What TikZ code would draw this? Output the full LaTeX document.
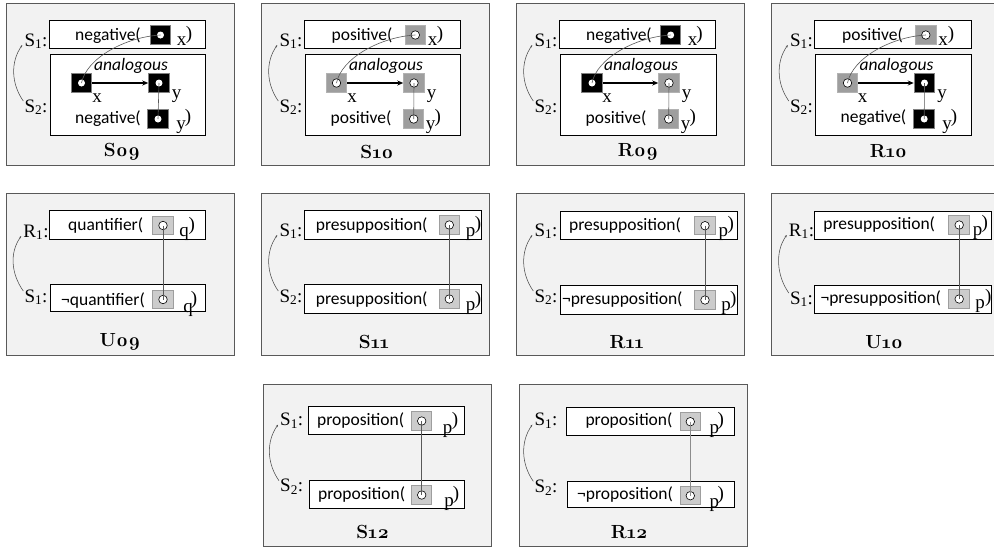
\documentclass[tikz,border=0pt]{standalone}
\usepackage{fontspec}
\newfontfamily\sansf{Carlito}
\newfontfamily\serf{Liberation Serif}
\newfontfamily\titlef[Numbers=OldStyle]{Latin Modern Roman}
\usetikzlibrary{arrows.meta}
\newcommand{\Sone}{S\textsubscript{1}}
\newcommand{\Stwo}{S\textsubscript{2}}
\newcommand{\Rone}{R\textsubscript{1}}
\tikzset{
  outerbox/.style={draw=black!65,line width=0.9pt,fill=black!5},
  innerbox/.style={draw=black,line width=0.8pt,fill=white},
  sq/.style={rectangle,minimum width=20.5pt,minimum height=18.5pt,inner sep=0pt,line width=1pt},
  sqk/.style={sq,fill=black,draw=black!50},
  sqg/.style={sq,fill=black!38,draw=black!30},
  sql/.style={sq,fill=black!20,draw=black!38},
  ringk/.style={circle,minimum size=7pt,inner sep=0pt,fill=white},
  ringg/.style={circle,minimum size=8.5pt,inner sep=0pt,fill=white,draw=black,line width=0.6pt},
  sanslab/.style={inner sep=0pt,text height=12pt,text depth=4pt,font=\sansf\fontsize{17.5}{20}\selectfont},
  itlab/.style={sanslab,font=\sansf\itshape\fontsize{17.5}{20}\selectfont},
  serlab/.style={inner sep=0pt,text height=12pt,text depth=4pt,font=\serf\fontsize{19}{20}\selectfont},
  ttl/.style={inner sep=0pt,font=\titlef\bfseries\fontsize{19}{22}\selectfont},
  linkline/.style={draw=black!65,line width=0.6pt},
  arcline/.style={draw=black!70,line width=0.55pt,-{Stealth[length=2.5pt,width=2pt]}},
  arrowline/.style={draw=black,line width=1.1pt,-{Stealth[length=6pt,width=5pt]}},
}
\newcommand{\panel}[7]{%
  \begin{scope}[shift={(#1,#2)},name prefix=#3-]
    \draw[outerbox] (6,3) rectangle (234,165);
    \node[ttl] (title) at (#5,#6) {#4};
    #7
  \end{scope}}
\newcommand{\ibox}[5]{\node[innerbox,inner sep=0pt,minimum width={#4-#2},minimum height={#5-#3}] (#1) at ({(#2+#4)/2},{(#3+#5)/2}) {};}
\newcommand{\sqr}[5]{\node[#2] (#1) at (#4,#5) {};\node[#3] (#1c) at (#4,#5) {};}
\newcommand{\stx}[4]{\node[sanslab] (#1) at (#3,#4) {#2};}
\newcommand{\ser}[4]{\node[serlab] (#1) at (#3,#4) {#2};}
\newcommand{\labs}[6]{%
  \node[serlab] (l1) at (#2,#3) {#1:};
  \node[serlab] (l2) at (#5,#6) {#4:};
  \draw[arcline] ([shift={(-1,-7)}]l2.west) .. controls +(-12,-17) and +(-12,17) .. ([shift={(-2,3)}]l1.west);}
\newcommand{\analog}{\node[itlab] (an) at (131,66) {analogous};}
\begin{document}
\begin{tikzpicture}[x=1pt,y=-1pt]
\useasboundingbox (0,0) rectangle (994,547);
\clip (0,0) rectangle (994,547);
% ---------- row 1
\panel{0}{0}{a}{S09}{122}{152}{
  \ibox{b1}{49}{20}{205}{48}\ibox{b2}{50}{54}{205}{135}
  \labs{\Sone}{36}{42}{\Stwo}{36}{108}
  \stx{t1}{negative(}{108}{36}\stx{t2}{negative(}{108}{119}\analog
  \sqr{s1}{sqk}{ringk}{160.5}{35}\sqr{s2}{sqk}{ringk}{81.5}{83}\sqr{s3}{sqk}{ringk}{159}{83}\sqr{s4}{sqk}{ringk}{158}{119}
  \ser{v1}{x}{181.5}{41.5}\ser{p1}{)}{189}{35}\ser{v2}{x}{97}{98}\ser{v3}{y}{176.5}{94}\ser{v4}{y}{181}{125}\ser{p2}{)}{188}{118}
  \draw[arrowline] (s2) -- (s3);
  \draw[linkline] (s3.center) -- (s4.center);
  \draw[linkline] (s2.center) .. controls +(5,-25) and +(-35,2) .. (s1.center);
}
\panel{255}{0}{b}{S10}{122}{152}{
  \ibox{b1}{49}{20}{205}{48}\ibox{b2}{50}{54}{205}{135}
  \labs{\Sone}{36}{42}{\Stwo}{36}{108}
  \stx{t1}{positive(}{107}{36}\stx{t2}{positive(}{106}{119}\analog
  \sqr{s1}{sqg}{ringg}{160.3}{35}\sqr{s2}{sqg}{ringg}{81.5}{83}\sqr{s3}{sqg}{ringg}{159}{83}\sqr{s4}{sqg}{ringg}{158.7}{119}
  \ser{v1}{x}{177.5}{41.5}\ser{p1}{)}{185}{35}\ser{v2}{x}{97}{98}\ser{v3}{y}{176.5}{94}\ser{v4}{y}{175.7}{125}\ser{p2}{)}{182.7}{118}
  \draw[arrowline] (s2) -- (s3);
  \draw[linkline] (s3.center) -- (s4.center);
  \draw[linkline] (s2.center) .. controls +(5,-25) and +(-35,2) .. (s1.center);
}
\panel{510}{0}{c}{R09}{128}{152}{
  \ibox{b1}{49}{20}{205}{48}\ibox{b2}{50}{54}{206}{135}
  \labs{\Sone}{36}{42}{\Stwo}{36}{108}
  \stx{t1}{negative(}{109}{36}\stx{t2}{positive(}{106}{119}\analog
  \sqr{s1}{sqk}{ringk}{160.7}{35}\sqr{s2}{sqk}{ringk}{82}{83}\sqr{s3}{sqg}{ringg}{159}{83}\sqr{s4}{sqg}{ringg}{158.7}{119}
  \ser{v1}{x}{182.5}{41.5}\ser{p1}{)}{189.5}{35}\ser{v2}{x}{97}{98}\ser{v3}{y}{176.5}{94}\ser{v4}{y}{175.7}{125}\ser{p2}{)}{182.7}{118}
  \draw[arrowline] (s2) -- (s3);
  \draw[linkline] (s3.center) -- (s4.center);
  \draw[linkline] (s2.center) .. controls +(5,-25) and +(-35,2) .. (s1.center);
}
\panel{765.5}{0}{d}{R10}{123}{151}{
  \ibox{b1}{49}{20}{206}{48}\ibox{b2}{50}{54}{206}{135}
  \labs{\Sone}{36}{42}{\Stwo}{36}{108}
  \stx{t1}{positive(}{107}{36}\stx{t2}{negative(}{108}{118}\analog
  \sqr{s1}{sqg}{ringg}{160.3}{35}\sqr{s2}{sqg}{ringg}{82}{83}\sqr{s3}{sqk}{ringk}{159}{83}\sqr{s4}{sqk}{ringk}{158.7}{119}
  \ser{v1}{x}{177.5}{41.5}\ser{p1}{)}{185.5}{35}\ser{v2}{x}{97}{98}\ser{v3}{y}{176.5}{94}\ser{v4}{y}{181.5}{125}\ser{p2}{)}{188.5}{118}
  \draw[arrowline] (s2) -- (s3);
  \draw[linkline] (s3.center) -- (s4.center);
  \draw[linkline] (s2.center) .. controls +(5,-25) and +(-35,2) .. (s1.center);
}
% ---------- row 2
\panel{0}{190}{e}{U09}{120}{152}{
  \ibox{b1}{49}{20.7}{205}{49}\ibox{b2}{50}{94.3}{205}{121}
  \labs{\Rone}{36}{43}{\Sone}{36}{108}
  \stx{t1}{quantifier(}{105.7}{36.7}\stx{t2}{¬quantifier(}{103}{111}
  \sqr{s1}{sql}{ringg}{163}{35.5}\sqr{s2}{sql}{ringg}{163}{109.5}
  \ser{v1}{q}{184}{42}\ser{p1}{)}{191.7}{36.7}\ser{v2}{q}{188}{118}\ser{p2}{)}{194}{110}
  \draw[linkline] (s1.center) -- (s2.center);
}
\panel{255}{190}{f}{S11}{119}{151.7}{
  \ibox{b1}{49}{20.7}{226.7}{49}\ibox{b2}{49}{94.3}{226.7}{123.3}
  \labs{\Sone}{36}{42}{\Stwo}{36}{108}
  \stx{t1}{presupposition(}{116.7}{36}\stx{t2}{presupposition(}{116.7}{110}
  \sqr{s1}{sql}{ringg}{194.3}{35}\sqr{s2}{sql}{ringg}{194.3}{109}
  \ser{v1}{p}{215.5}{42}\ser{p1}{)}{223}{35}\ser{v2}{p}{215.5}{116}\ser{p2}{)}{223}{110}
  \draw[linkline] (s1.center) -- (s2.center);
}
\panel{510}{190}{g}{R11}{116.7}{151.7}{
  \ibox{b1}{50}{21.7}{227.3}{49.3}\ibox{b2}{50}{95.7}{227.3}{124}
  \labs{\Sone}{36}{42}{\Stwo}{36}{108}
  \stx{t1}{presupposition(}{115}{36}\stx{t2}{¬presupposition(}{112.3}{110}
  \sqr{s1}{sql}{ringg}{195}{35.7}\sqr{s2}{sql}{ringg}{195}{110}
  \ser{v1}{p}{213.3}{42}\ser{p1}{)}{220.7}{35}\ser{v2}{p}{216}{116}\ser{p2}{)}{223.3}{110}
  \draw[linkline] (s1.center) -- (s2.center);
}
\panel{765.5}{190}{h}{U10}{118.7}{151.7}{
  \ibox{b1}{49.3}{21}{226}{49.3}\ibox{b2}{49.3}{95}{226}{123.3}
  \labs{\Rone}{36}{42}{\Sone}{36}{110}
  \stx{t1}{presupposition(}{113.7}{35}\stx{t2}{¬presupposition(}{115.3}{109}
  \sqr{s1}{sql}{ringg}{193.7}{35}\sqr{s2}{sql}{ringg}{193.7}{109}
  \ser{v1}{p}{212}{41}\ser{p1}{)}{219.3}{34}\ser{v2}{p}{214.7}{114}\ser{p2}{)}{222.7}{108}
  \draw[linkline] (s1.center) -- (s2.center);
}
% ---------- row 3
\panel{257.3}{381}{i}{S12}{115.4}{150.7}{
  \ibox{b1}{51}{25.7}{206.7}{53.3}\ibox{b2}{51.7}{99.7}{207}{127.3}
  \labs{\Sone}{34.4}{40.7}{\Stwo}{34.4}{106.7}
  \stx{t1}{proposition(}{103.4}{40.7}\stx{t2}{proposition(}{104.4}{114}
  \sqr{s1}{sql}{ringg}{164.4}{40}\sqr{s2}{sql}{ringg}{164.4}{114}
  \ser{v1}{p}{190.4}{48}\ser{p1}{)}{197.7}{40.7}\ser{v2}{p}{191.7}{121.7}\ser{p2}{)}{198.7}{114}
  \draw[linkline] (s1.center) -- (s2.center);
}
\panel{513}{381}{j}{R12}{116.3}{150.7}{
  \ibox{b1}{53.7}{26.3}{221}{54}\ibox{b2}{54.3}{100.7}{221}{126.7}
  \labs{\Sone}{33}{40.7}{\Stwo}{33}{107.3}
  \stx{t1}{proposition(}{116}{40.7}\stx{t2}{¬proposition(}{112}{114.7}
  \sqr{s1}{sql}{ringg}{177.3}{40.7}\sqr{s2}{sql}{ringg}{177.3}{114.7}
  \ser{v1}{p}{201.3}{48.7}\ser{p1}{)}{207.7}{40.7}\ser{v2}{p}{201.3}{122}\ser{p2}{)}{207.7}{114}
  \draw[linkline,draw=black!45] (s1.center) -- (s2.center);
}
\end{tikzpicture}
\end{document}
